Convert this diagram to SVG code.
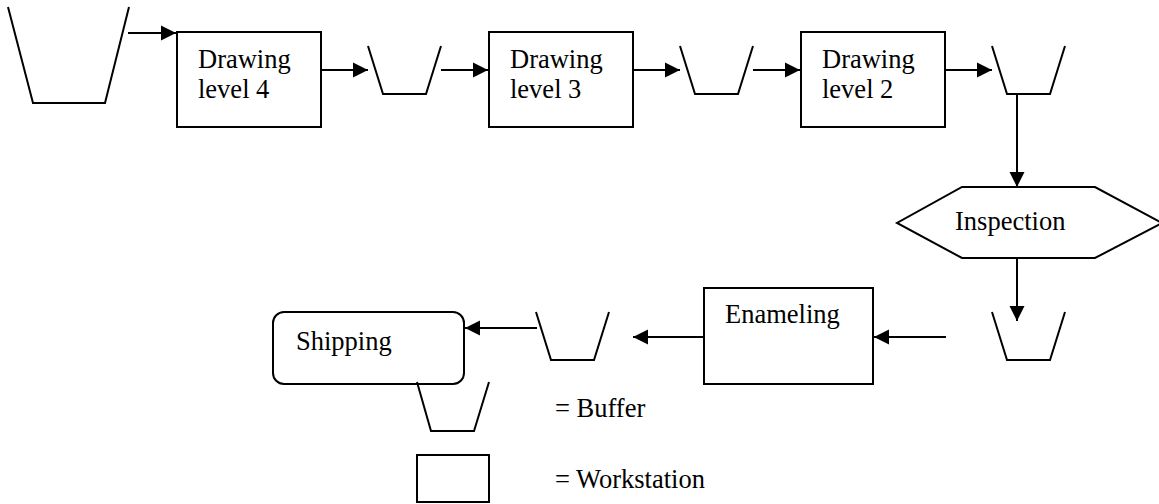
<svg xmlns="http://www.w3.org/2000/svg" width="1159" height="504" viewBox="0 0 1159 504">
  <defs>
    <marker id="arrow" markerUnits="userSpaceOnUse" markerWidth="16" markerHeight="16" viewBox="0 0 16 16" refX="15" refY="8" orient="auto">
      <path d="M0,0.5 L15,8 L0,15.5 Z" fill="#000"/>
    </marker>
    <!-- buffer symbol: open trapezoid -->
    <path id="buffer" d="M0,0 L15,48 L58,48 L73,0"/>
  </defs>
  <style>
    .shape { fill: #fff; stroke: #000; stroke-width: 2; }
    .open { fill: none; stroke: #000; stroke-width: 2; }
    .link { fill: none; stroke: #000; stroke-width: 2; marker-end: url(#arrow); }
    .label { font-family: "Liberation Serif", "Times New Roman", serif; font-size: 26.5px; fill: #000; }
  </style>

  <!-- connectors -->
  <g id="connectors">
    <line class="link" x1="128" y1="33" x2="176" y2="33"/>
    <line class="link" x1="321" y1="70" x2="368" y2="70"/>
    <line class="link" x1="441" y1="70" x2="488" y2="70"/>
    <line class="link" x1="634" y1="70" x2="680" y2="70"/>
    <line class="link" x1="753" y1="70" x2="800" y2="70"/>
    <line class="link" x1="945" y1="70" x2="992" y2="70"/>
    <line class="link" x1="1017" y1="94" x2="1017" y2="187"/>
    <line class="link" x1="1017" y1="249" x2="1017" y2="321"/>
    <line class="link" x1="946" y1="337" x2="874" y2="337"/>
    <line class="link" x1="704" y1="337" x2="633" y2="337"/>
    <line class="link" x1="537" y1="328" x2="465" y2="328"/>
  </g>

  <!-- buffers -->
  <g id="buffer-in"><path class="open" d="M8,7 L33,103 L105,103 L129,7"/></g>
  <g id="buffer-1"><use href="#buffer" class="open" x="368" y="46"/></g>
  <g id="buffer-2"><use href="#buffer" class="open" x="680" y="46"/></g>
  <g id="buffer-3"><use href="#buffer" class="open" x="992" y="46"/></g>
  <g id="buffer-4"><use href="#buffer" class="open" x="992" y="312"/></g>
  <g id="buffer-5"><use href="#buffer" class="open" x="536" y="312"/></g>

  <!-- workstations -->
  <g id="drawing-4">
    <rect class="shape" x="177" y="32" width="144" height="95"/>
    <text class="label" x="198" y="68">Drawing</text>
    <text class="label" x="198" y="98">level 4</text>
  </g>
  <g id="drawing-3">
    <rect class="shape" x="489" y="32" width="144" height="95"/>
    <text class="label" x="510" y="68">Drawing</text>
    <text class="label" x="510" y="98">level 3</text>
  </g>
  <g id="drawing-2">
    <rect class="shape" x="801" y="32" width="144" height="95"/>
    <text class="label" x="822" y="68">Drawing</text>
    <text class="label" x="822" y="98">level 2</text>
  </g>
  <g id="inspection">
    <polygon class="shape" points="962,187 1095,187 1162,223 1095,258 962,258 897,223"/>
    <text class="label" x="955" y="230">Inspection</text>
  </g>
  <g id="enameling">
    <rect class="shape" x="704" y="288" width="169" height="96"/>
    <text class="label" x="725" y="323">Enameling</text>
  </g>
  <g id="shipping">
    <rect class="shape" x="273" y="312" width="191" height="72" rx="11" ry="11"/>
    <text class="label" x="296" y="350">Shipping</text>
  </g>

  <!-- legend -->
  <g id="legend-buffer">
    <path class="open" d="M417,382 L431,431 L474,431 L489,382"/>
    <text class="label" x="555" y="417">= Buffer</text>
  </g>
  <g id="legend-workstation">
    <rect class="shape" x="417" y="455" width="72" height="47"/>
    <text class="label" x="555" y="488">= Workstation</text>
  </g>
</svg>
